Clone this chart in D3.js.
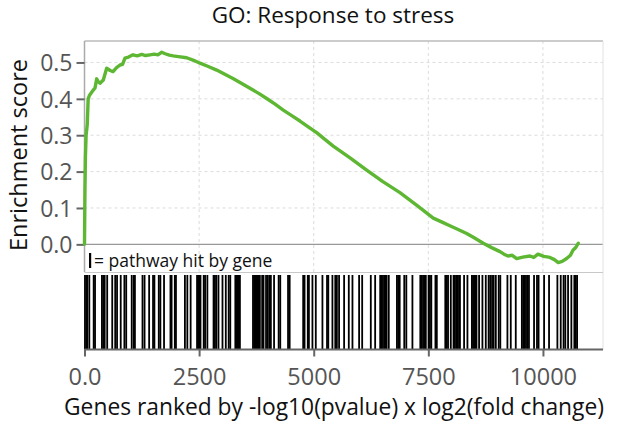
<!DOCTYPE html>
<html>
<head>
<meta charset="utf-8">
<script src="https://cdn.jsdelivr.net/npm/d3@7"></script>
<style>
  html, body { margin: 0; padding: 0; background: #fff; }
  svg { display: block; }
  text { font-family: "Open Sans", "Noto Sans", sans-serif; }
</style>
</head>
<body>
<svg id="chart" width="622" height="431"></svg>
<script>
// ---- Data ----
const title = "GO: Response to stress";
const xTicks = [0, 2500, 5000, 7500, 10000];
const xTickLabels = ["0.0", "2500", "5000", "7500", "10000"];
const yTicks = [0.0, 0.1, 0.2, 0.3, 0.4, 0.5];
const yTickLabels = ["0.0", "0.1", "0.2", "0.3", "0.4", "0.5"];

// running enrichment score: rank positions and score values
const esRank = [0, 10, 20, 35, 60, 80, 110, 192, 230, 266, 300, 338, 410, 484, 560, 622, 700, 774, 830, 883, 960, 1058, 1150, 1250, 1330, 1429, 1520, 1600, 1684, 1760, 1850, 1937, 2050, 2229, 2380, 2519, 2700, 2883, 3050, 3239, 3420, 3610, 3800, 3974, 4150, 4336, 4520, 4700, 4880, 5064, 5250, 5426, 5800, 6155, 6500, 6881, 7250, 7607, 7800, 7970, 8150, 8336, 8500, 8698, 8880, 9063, 9150, 9237, 9330, 9426, 9560, 9716, 9800, 9891, 10020, 10153, 10250, 10334, 10420, 10517, 10600, 10655, 10720, 10770];
const esValue = [0.0, 0.15, 0.24, 0.30, 0.33, 0.40, 0.41, 0.424, 0.43, 0.455, 0.447, 0.443, 0.452, 0.484, 0.478, 0.475, 0.486, 0.493, 0.495, 0.512, 0.515, 0.521, 0.518, 0.522, 0.519, 0.521, 0.523, 0.521, 0.528, 0.524, 0.52, 0.518, 0.516, 0.513, 0.506, 0.498, 0.489, 0.479, 0.468, 0.456, 0.443, 0.429, 0.415, 0.401, 0.386, 0.369, 0.354, 0.339, 0.323, 0.307, 0.288, 0.27, 0.237, 0.204, 0.173, 0.142, 0.107, 0.072, 0.061, 0.051, 0.041, 0.030, 0.018, 0.003, -0.009, -0.020, -0.027, -0.032, -0.030, -0.039, -0.035, -0.032, -0.036, -0.027, -0.033, -0.036, -0.042, -0.050, -0.047, -0.039, -0.030, -0.016, -0.008, 0.003];

// pathway hits (gene ranks)
const hitRanks = [10, 40, 60, 105, 200, 230, 380, 410, 440, 495, 605, 670, 710, 790, 870, 910, 1030, 1075, 1100, 1265, 1310, 1410, 1495, 1525, 1620, 1655, 1735, 1875, 1900, 1970, 1995, 2190, 2243, 2315, 2455, 2480, 2505, 2530, 2600, 2630, 2680, 2815, 2845, 2875, 2922, 3010, 3082, 3145, 3180, 3290, 3315, 3340, 3365, 3390, 3675, 3700, 3725, 3750, 3775, 3800, 3825, 3875, 3905, 3960, 4000, 4040, 4065, 4135, 4235, 4270, 4440, 4475, 4770, 4800, 4870, 4895, 4972, 5045, 5190, 5290, 5318, 5408, 5470, 5505, 5553, 5663, 5765, 5845, 5990, 6057, 6245, 6340, 6450, 6480, 6510, 6540, 6570, 6590, 6637, 6815, 6845, 6875, 6975, 7020, 7153, 7325, 7355, 7385, 7415, 7445, 7505, 7535, 7565, 7655, 7685, 7870, 7900, 7930, 7990, 8050, 8080, 8110, 8140, 8170, 8190, 8280, 8353, 8450, 8475, 8500, 8525, 8550, 8607, 8680, 8753, 8815, 8850, 8890, 8925, 8972, 9035, 9070, 9225, 9298, 9407, 9540, 9570, 9600, 9630, 9660, 9695, 9806, 9870, 9905, 10025, 10133, 10315, 10388, 10450, 10488, 10548, 10620, 10685, 10715, 10745];

// ---- Layout ----
const svg = d3.select("#chart");
const left = 84.5, right = 603;
const topY = 41, topBottom = 272;
const barTop = 275, barBottom = 349.5;

const x = d3.scaleLinear().domain([0, 11310]).range([left, right]);
const y = d3.scaleLinear().domain([-0.076, 0.559]).range([topBottom, topY]);

// grid (top panel)
const grid = svg.append("g");
grid.selectAll("line.v").data(xTicks.slice(1)).join("line")
  .attr("x1", d => x(d)).attr("x2", d => x(d))
  .attr("y1", topY).attr("y2", topBottom)
  .attr("stroke", "#dcdcdc").attr("stroke-width", 1).attr("stroke-dasharray", "3,3");
grid.selectAll("line.h").data(yTicks.slice(1)).join("line")
  .attr("x1", left).attr("x2", right)
  .attr("y1", d => y(d)).attr("y2", d => y(d))
  .attr("stroke", "#dcdcdc").attr("stroke-width", 1).attr("stroke-dasharray", "3,3");

// zero line
svg.append("line").attr("x1", left).attr("x2", right)
  .attr("y1", y(0)).attr("y2", y(0)).attr("stroke", "#999").attr("stroke-width", 1.2);

// panel borders
svg.append("line").attr("x1", left).attr("x2", right).attr("y1", topY).attr("y2", topY)
  .attr("stroke", "#bbb").attr("stroke-width", 1.5);
svg.append("line").attr("x1", right).attr("x2", right).attr("y1", topY).attr("y2", barBottom)
  .attr("stroke", "#e2e2e2").attr("stroke-width", 1);
svg.append("line").attr("x1", left).attr("x2", right).attr("y1", topBottom + 0.5).attr("y2", topBottom + 0.5)
  .attr("stroke", "#c8c8c8").attr("stroke-width", 1.2);
svg.append("line").attr("x1", left).attr("x2", left).attr("y1", topY).attr("y2", topBottom)
  .attr("stroke", "#aaa").attr("stroke-width", 1.5);

// y axis
const yAxis = d3.axisLeft(y).tickValues(yTicks).tickFormat((d, i) => yTickLabels[i]).tickSize(8).tickPadding(4);
const gy = svg.append("g").attr("transform", `translate(${left},0)`).call(yAxis);
gy.select(".domain").remove();
gy.selectAll(".tick line").attr("stroke", "#666").attr("stroke-width", 2);
gy.selectAll(".tick text").attr("fill", "#555").attr("font-size", 23).attr("dy", "0.36em")
  .style("font-family", "'Open Sans', sans-serif");

// ES curve
const esData = esRank.map((r, i) => [r, esValue[i]]);
svg.append("path").datum(esData)
  .attr("fill", "none").attr("stroke", "#5db733").attr("stroke-width", 3.4)
  .attr("stroke-linejoin", "round").attr("stroke-linecap", "round")
  .attr("d", d3.line().x(d => x(d[0])).y(d => y(d[1])));

// legend text
svg.append("rect").attr("x", 89).attr("y", 253).attr("width", 2.2).attr("height", 15).attr("fill", "#000");
svg.append("text").attr("x", 94).attr("y", 267).attr("font-size", 17.5).attr("fill", "#111")
  .text("= pathway hit by gene");

// barcode
svg.append("g").selectAll("rect").data(hitRanks).join("rect")
  .attr("x", d => x(d) - 0.9).attr("width", 1.8)
  .attr("y", barTop).attr("height", barBottom - barTop)
  .attr("fill", "#000");

// x axis
const xAxis = d3.axisBottom(x).tickValues(xTicks).tickFormat((d, i) => xTickLabels[i]).tickSize(7).tickPadding(12).tickSizeOuter(0);
const gx = svg.append("g").attr("transform", `translate(0,${barBottom})`).call(xAxis);
gx.select(".domain").attr("stroke", "#666").attr("stroke-width", 2).attr("d", `M${left},0H${right}`);
gx.selectAll(".tick line").attr("stroke", "#666").attr("stroke-width", 2);
gx.selectAll(".tick text").attr("fill", "#555").attr("font-size", 23.5)
  .style("font-family", "'Open Sans', sans-serif");

// titles
svg.append("text").attr("x", 333).attr("y", 23).attr("text-anchor", "middle")
  .attr("font-size", 22.5).attr("fill", "#111").text(title);
svg.append("text").attr("x", 334).attr("y", 415).attr("text-anchor", "middle")
  .attr("font-size", 22.8).attr("fill", "#111").text("Genes ranked by -log10(pvalue) x log2(fold change)");
svg.append("text").attr("transform", "translate(27,155) rotate(-90)").attr("text-anchor", "middle")
  .attr("font-size", 23.5).attr("fill", "#111").text("Enrichment score");
</script>
</body>
</html>
